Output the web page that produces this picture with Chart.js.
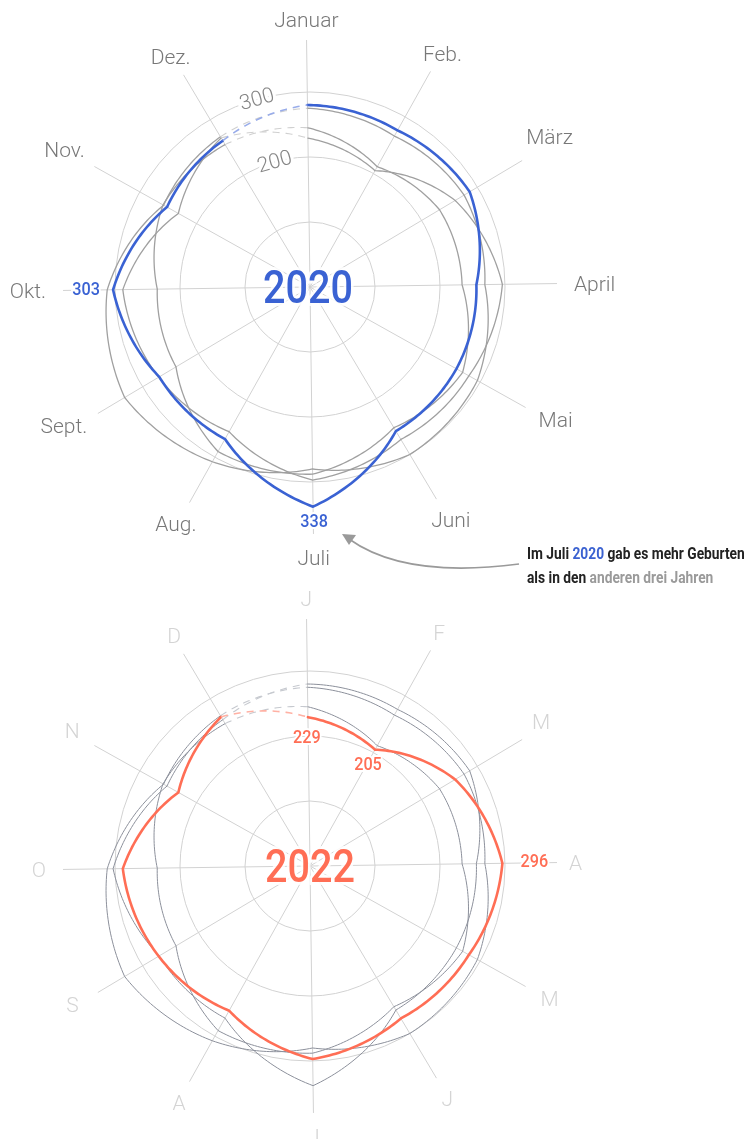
<!DOCTYPE html>
<html><head><meta charset="utf-8">
<script src="https://cdn.jsdelivr.net/npm/chart.js@4.4.1/dist/chart.umd.min.js"></script>
<style>
html,body{margin:0;padding:0;background:#fff;width:752px;height:1139px;overflow:hidden;position:relative;font-family:Roboto,sans-serif}
.box{position:absolute;left:0;width:620px;height:574px}
#b1{top:0}#b2{top:579px}
.note{position:absolute;left:527px;top:542px;font-family:Roboto,sans-serif;font-weight:700;font-size:16px;line-height:24px;color:#222;transform:scaleX(0.86);transform-origin:0 0;white-space:nowrap}
svg{position:absolute;left:0;top:0}
</style></head><body>
<div class="box" id="b1"><canvas id="c1"></canvas></div>
<div class="box" id="b2"><canvas id="c2"></canvas></div>
<svg width="752" height="600"><path d="M 519 564 Q 405 579 349 539" fill="none" stroke="#9a9a9a" stroke-width="1.6"/><path d="M 342 534 L 356 535 L 349 545 Z" fill="#9a9a9a"/></svg>
<div class="note">Im Juli <span style="color:#3b62d1">2020</span> gab es mehr Geburten<br>als in den <span style="color:#9a9a9a">anderen drei Jahren</span></div>
<script>
// ---- data ----
const monthsLong  = ['Januar','Feb.','März','April','Mai','Juni','Juli','Aug.','Sept.','Okt.','Nov.','Dez.'];
const monthsShort = ['J','F','M','A','M','J','J','A','S','O','N','D'];
const births2020   = [280,276,286,256,258,258,338,268,270,303,252,262];
const births2022   = [229,205,260,296,280,273,297,255,271,288,232,267];
const birthsOtherA = [275,266,276,269,295,300,280,308,332,312,258,269];
const birthsOtherB = [245,212,232,234,269,252,288,290,240,235,259,255];
const ringValues = [100,200,300];
const ringLabels = [300,200];
const scaleMax = 380;

const BLUE='#3a62d3', BLUE_D='#98acea', CORAL='#ff6e55', CORAL_D='#ffb1a4';

const polarLines = {
  id:'polarLines',
  beforeDatasetsDraw(chart, args, o){
    const sc = chart.scales.r, ctx = chart.ctx;
    ctx.save();
    ctx.font = '300 21px Roboto, sans-serif';
    ctx.fillStyle = o.labelColor; ctx.textAlign='center'; ctx.textBaseline='alphabetic';
    const capH = 15;
    chart.data.labels.forEach((lab,i)=>{
      const w = ctx.measureText(lab).width;
      const th = sc.getIndexAngle(i);
      const s = Math.sin(th), c = Math.cos(th);
      const p = sc.getPointPosition(i, sc.drawingArea + 13 + (c < -0.1 ? 3 : 0));
      let x = p.x + Math.sign(s)*s*s*(w/2+4), y = p.y - c*8;
      const nd = (o.nudge||{})[i]; if(nd){x+=nd[0]; y+=nd[1];}
      ctx.fillText(lab, x, y + capH/2);
    });
    ctx.restore();
  },
  afterDatasetsDraw(chart){
    const sc = chart.scales.r, ctx = chart.ctx, n = chart.data.labels.length;
    const seg = (vals, i, j, ii) => {
      const d0 = sc.getDistanceFromCenterForValue(vals[i]);
      const d1 = sc.getDistanceFromCenterForValue(vals[j]);
      const pts=[];
      for(let k=0;k<=30;k++){const t=k/30;pts.push(sc.getPointPosition(ii+t, d0+(d1-d0)*t));}
      return pts;
    };
    chart.data.datasets.forEach(ds=>{
      const v = ds.data;
      ctx.save();
      ctx.lineJoin='round'; ctx.lineCap='round';
      ctx.beginPath();
      for(let i=0;i<n-1;i++){
        seg(v,i,i+1,i).forEach((p,k)=>{ if(i===0&&k===0) ctx.moveTo(p.x,p.y); else ctx.lineTo(p.x,p.y);});
      }
      ctx.strokeStyle=ds.lineColor; ctx.lineWidth=ds.lineW; ctx.stroke();
      ctx.beginPath();
      seg(v,n-1,0,n-1).forEach((p,k)=>{ if(k===0) ctx.moveTo(p.x,p.y); else ctx.lineTo(p.x,p.y);});
      ctx.setLineDash([7,6]); ctx.lineCap='butt';
      ctx.strokeStyle=ds.dashColor; ctx.lineWidth=Math.max(1.1,ds.lineW*0.6); ctx.stroke();
      ctx.restore();
    });
  },
  afterDraw(chart, args, o){
    const sc = chart.scales.r, ctx = chart.ctx;
    ctx.save();
    (o.rings||[]).forEach(val=>{
      const d = sc.getDistanceFromCenterForValue(val);
      const p = sc.getPointPosition(o.ringIndex, d);
      ctx.save(); ctx.translate(p.x,p.y); ctx.rotate(p.angle+Math.PI/2);
      ctx.font='300 21px Roboto, sans-serif'; ctx.textAlign='center'; ctx.textBaseline='middle';
      ctx.lineWidth=6; ctx.strokeStyle='#fff'; ctx.strokeText(String(val),0,1);
      ctx.fillStyle='#858585'; ctx.fillText(String(val),0,1);
      ctx.restore();
    });
    const ds = chart.data.datasets[o.hl];
    (o.marks||[]).forEach(m=>{
      const p = sc.getPointPositionForValue(m.i, ds.data[m.i]);
      ctx.font='500 18px Roboto, sans-serif'; ctx.textAlign='center'; ctx.textBaseline='middle';
      ctx.save(); ctx.translate(p.x+m.dx,p.y+m.dy); ctx.scale(0.9,1);
      ctx.lineWidth=4; ctx.strokeStyle='#fff'; ctx.strokeText(String(ds.data[m.i]),0,0);
      ctx.fillStyle=ds.lineColor; ctx.fillText(String(ds.data[m.i]),0,0);
      ctx.restore();
    });
    ctx.save(); ctx.translate(sc.xCenter+o.yearDx, sc.yCenter+4); ctx.scale(0.86,1);
    ctx.font='500 46px Roboto, sans-serif'; ctx.textAlign='center'; ctx.textBaseline='middle';
    ctx.lineWidth=6; ctx.strokeStyle='rgba(255,255,255,0.85)'; ctx.strokeText(o.year,0,0);
    ctx.fillStyle=ds.lineColor; ctx.fillText(o.year,0,0);
    ctx.restore();
    ctx.restore();
  }
};

function makeChart(id, labels, series, opts){
  return new Chart(document.getElementById(id), {
    type:'radar',
    data:{labels, datasets: series},
    options:{
      responsive:true, maintainAspectRatio:false, animation:false,
      layout:{padding:{left:63,right:63,top:40,bottom:40}},
      elements:{line:{borderWidth:0, borderColor:'transparent', backgroundColor:'transparent'}, point:{radius:0, hoverRadius:0}},
      plugins:{legend:{display:false}, tooltip:{enabled:false}, polarLines:opts},
      scales:{r:{
        min:0, max:scaleMax, startAngle:-0.8,
        ticks:{display:false, stepSize:100},
        grid:{circular:true, color:c=> ringValues.includes(c.tick.value)?'#d2d2d2':'transparent', lineWidth:1},
        angleLines:{color:'#d2d2d2', lineWidth:1},
        pointLabels:{display:false}
      }}
    },
    plugins:[polarLines]
  });
}

const mk = (data, color, w, dash) => ({data, lineColor:color, lineW:w, dashColor:dash, fill:false});
const G1='#a0a0a0', G1D='#d0d0d0', G2='#8c909b', G2D='#c6c9cf';

makeChart('c1', monthsLong, [
  mk(birthsOtherA,G1,1.3,G1D), mk(birthsOtherB,G1,1.3,G1D), mk(births2022,G1,1.3,G1D), mk(births2020,BLUE,2.6,BLUE_D)
], {hl:3, year:'2020', yearDx:-2, labelColor:'#787878', rings:ringLabels, ringIndex:11.5, nudge:{2:[-4,-13],10:[0,-7]},
  marks:[{i:9,dx:-27,dy:1},{i:6,dx:1,dy:16}]});

makeChart('c2', monthsShort, [
  mk(birthsOtherA,G2,1,G2D), mk(birthsOtherB,G2,1,G2D), mk(births2020,G2,1,G2D), mk(births2022,CORAL,2.6,CORAL_D)
], {hl:3, year:'2022', yearDx:0, labelColor:'#d4d4d4', rings:[], ringIndex:11.5, nudge:{2:[-2,-7],3:[-5,0],8:[-4,0],10:[-2,-5]},
  marks:[{i:0,dx:-1,dy:21},{i:1,dx:-7,dy:16},{i:3,dx:32,dy:-1}]});
</script>
</body></html>
